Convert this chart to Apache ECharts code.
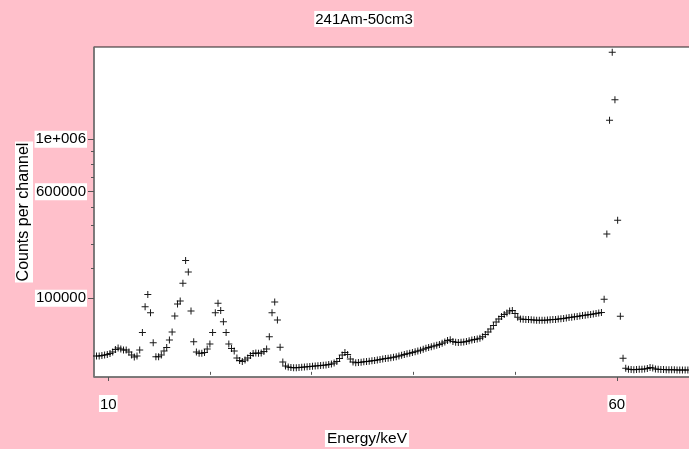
<!DOCTYPE html>
<html>
<head>
<meta charset="utf-8">
<script src="https://cdn.jsdelivr.net/npm/echarts@6/dist/echarts.min.js"></script>
<style>
  html, body { margin: 0; padding: 0; background: #ffc0cb; }
  #chart { width: 689px; height: 449px; }
</style>
</head>
<body>
<div id="chart"></div>
<script>
// Channel calibration of the spectrum (keV)
const channelStartKeV = 8.840;
const channelWidthKeV = 0.2655;

// Counts per channel, channel 0 upwards
const counts = [
  4640, 4640, 4940, 5240, 5560, 6220, 7280, 9230, 10500, 9650,
  8820, 8820, 7280, 5240, 4070, 4640, 8820, 28600, 78500, 110600,
  64700, 15700, 4240, 4240, 5240, 8030, 11000, 18800, 29400, 57700,
  85100, 92800, 145000, 229000, 184000, 68500, 16800, 7280, 6360, 6360,
  6920, 9650, 14300, 28600, 64700, 86900, 69600, 46500, 28600, 14300,
  10100, 8030, 3540, 2380, 1980, 2590, 3540, 4940, 6220, 6560,
  6360, 6560, 7650, 9650, 22800, 64700, 90200, 49700, 11100, 1790,
  631, 433, 348, 317, 317, 348, 381, 433, 470, 527,
  568, 631, 675, 743, 815, 865, 969, 1140, 1450, 1980,
  3290, 5240, 6920, 5560, 3050, 1790, 1550, 1610, 1720, 1860,
  1980, 2090, 2250, 2420, 2590, 2820, 3050, 3240, 3390, 3650,
  3910, 4240, 4640, 5060, 5500, 6020, 6430, 6920, 7430, 8030,
  8660, 9400, 10200, 11000, 11600, 12300, 13000, 13800, 15100, 16500,
  18200, 19000, 17000, 16100, 15900, 16100, 16500, 17000, 17800, 18800,
  19300, 19900, 20800, 22700, 25800, 29400, 33900, 39700, 45900, 51600,
  56600, 60800, 64000, 68500, 69600, 62900, 55000, 51600, 51000, 50700,
  50500, 50100, 49700, 49300, 49100, 49100, 49300, 49700, 50100, 50500,
  50900, 51400, 52000, 52800, 53600, 54400, 55200, 56000, 56800, 57700,
  58500, 59300, 60200, 61000, 61900, 62700, 63800, 65100, 97300, 351000,
  1170000, 1890000, 1370000, 425000, 57000, 3390, 232, 119, 93, 77,
  101, 119, 129, 149, 206, 348, 273, 149, 119, 101,
  93, 85, 77, 77, 77, 70, 70, 70, 63, 63
];

// Axis ticks and labels
const xMajorTicks = [10, 60];
const xMinorTicks = [20, 30, 40, 50];
const yMajorTicks = [100000, 600000, 1000000];
const yMajorLabels = ['100000', '600000', '1e+006'];
const yMinorTicks = [200000, 300000, 400000, 500000, 700000, 800000, 900000];

// Axis ranges: energy in keV, counts on a square-root scale
const xRange = [8.594, 67.59];
const yRootRange = [-22.19, 1396.9];

const FONT = 'Liberation Sans, Arial, sans-serif';
const root = v => Math.sqrt(v);

const points = counts.map((c, i) => [channelStartKeV + i * channelWidthKeV, root(c)]);

const chart = echarts.init(document.getElementById('chart'), null, { renderer: 'canvas' });

const labelBox = {
  color: '#000',
  fontFamily: FONT,
  fontSize: 15,
  backgroundColor: '#fff',
  padding: [2, 1, 0, 1]
};

chart.setOption({
  backgroundColor: '#ffc0cb',
  animation: false,
  title: [
    {
      text: '241Am-50cm3',
      left: 363,
      top: 11,
      textAlign: 'center',
      backgroundColor: '#fff',
      padding: [1, 1, 0, 1],
      textStyle: { color: '#000', fontFamily: FONT, fontSize: 15, fontWeight: 'normal' }
    },
    {
      text: 'Energy/keV',
      left: 365,
      top: 430,
      textAlign: 'center',
      backgroundColor: '#fff',
      padding: [1, 2, 0, 2],
      textStyle: { color: '#000', fontFamily: FONT, fontSize: 15.5, fontWeight: 'normal' }
    }
  ],
  grid: {
    left: 94,
    top: 47,
    width: 600,
    height: 330,
    outerBoundsMode: 'none',
    containLabel: false,
    show: true,
    backgroundColor: '#fff',
    borderColor: '#222',
    borderWidth: 1
  },
  xAxis: [
    {
      type: 'value',
      min: xRange[0],
      max: xRange[1],
      position: 'bottom',
      axisLine: { show: true, onZero: false, lineStyle: { color: '#777', width: 1.5 } },
      axisTick: { show: true, customValues: xMajorTicks, length: 4, lineStyle: { color: '#555' } },
      axisLabel: {
        customValues: xMajorTicks,
        margin: 18,
        formatter: v => String(Math.round(v)),
        ...labelBox
      },
      splitLine: { show: false }
    },
    {
      type: 'value',
      min: xRange[0],
      max: xRange[1],
      position: 'bottom',
      axisLine: { show: false },
      axisTick: { show: true, customValues: xMinorTicks, length: 3, lineStyle: { color: '#555' } },
      axisLabel: { show: false },
      splitLine: { show: false }
    }
  ],
  yAxis: [
    {
      type: 'value',
      min: yRootRange[0],
      max: yRootRange[1],
      position: 'left',
      name: 'Counts per channel',
      nameLocation: 'middle',
      nameGap: 61,
      nameMoveOverlap: false,
      nameTextStyle: { ...labelBox, fontSize: 16, padding: [1, 1, 1, 1] },
      axisLine: { show: true, onZero: false, lineStyle: { color: '#777', width: 1.5 } },
      axisTick: { show: true, customValues: yMajorTicks.map(root), length: 6, lineStyle: { color: '#555' } },
      axisLabel: {
        customValues: yMajorTicks.map(root),
        margin: 7,
        formatter: v => {
          const k = yMajorTicks.findIndex(t => Math.abs(root(t) - v) < 1e-6);
          return k >= 0 ? yMajorLabels[k] : '';
        },
        ...labelBox
      },
      splitLine: { show: false }
    },
    {
      type: 'value',
      min: yRootRange[0],
      max: yRootRange[1],
      position: 'left',
      axisLine: { show: false },
      axisTick: { show: true, customValues: yMinorTicks.map(root), length: 3, lineStyle: { color: '#555' } },
      axisLabel: { show: false },
      splitLine: { show: false }
    }
  ],
  series: [
    {
      type: 'scatter',
      xAxisIndex: 0,
      yAxisIndex: 0,
      data: points,
      symbol: 'path://M0,3h7v1h-7zM3,0h1v7h-1z',
      symbolSize: 7,
      itemStyle: { color: '#000', opacity: 0.9 },
      clip: true,
      silent: true
    }
  ]
});
</script>
</body>
</html>
